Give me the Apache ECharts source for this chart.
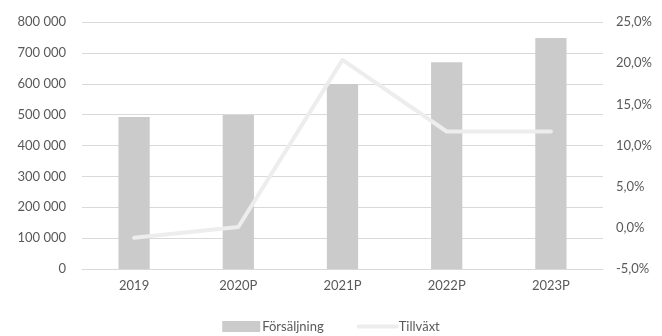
<!DOCTYPE html>
<html>
<head>
<meta charset="utf-8">
<script src="https://cdn.jsdelivr.net/npm/echarts@6/dist/echarts.min.js"></script>
<style>
  html, body { margin: 0; padding: 0; background: #fff; }
  #chart { width: 662px; height: 336px; }
</style>
</head>
<body>
<div id="chart"></div>
<script>
// Sales (left axis) and growth in percent (right axis)
const categories = ['2019', '2020P', '2021P', '2022P', '2023P'];
const salesValues = [492000, 499000, 599000, 670000, 748000];
const growthValues = [-1.2, 0.1, 20.4, 11.7, 11.7];
const seriesNames = ['Försäljning', 'Tillväxt'];

const textColor = '#595959';
const fontFamily = 'Lato, "Open Sans", "Noto Sans", sans-serif';

function fmtThousands(v) {
  return String(v).replace(/\B(?=(\d{3})+(?!\d))/g, ' ');
}
function fmtPercent(v) {
  return v.toFixed(1).replace('.', ',') + '%';
}

const chart = echarts.init(document.getElementById('chart'), null, { renderer: 'canvas' });
chart.setOption({
  animation: false,
  backgroundColor: '#ffffff',
  textStyle: { fontFamily: fontFamily, color: textColor },
  grid: { left: 82, right: 59, top: 22, bottom: 67 },
  legend: {
    top: 320,
    left: 'center',
    padding: 0,
    itemGap: 33,
    itemWidth: 38,
    itemHeight: 11,
    textStyle: { color: textColor, fontSize: 13, fontFamily: fontFamily, padding: [0, 0, 0, -3] },
    data: [
      { name: seriesNames[0], icon: 'rect' },
      // line-only key: hide the marker drawn on top of the stroke
      {
        name: seriesNames[1],
        itemStyle: { color: 'rgba(0,0,0,0)', borderColor: 'rgba(0,0,0,0)', borderWidth: 0 },
        lineStyle: { color: '#ededed', width: 4 }
      }
    ]
  },
  xAxis: {
    type: 'category',
    data: categories,
    axisLine: { lineStyle: { color: '#d9d9d9', width: 1 } },
    axisTick: { show: false },
    axisLabel: { color: textColor, fontSize: 13, margin: 10, fontFamily: fontFamily }
  },
  yAxis: [
    {
      type: 'value',
      min: 0,
      max: 800000,
      interval: 100000,
      axisLine: { show: false },
      axisTick: { show: false },
      splitLine: { lineStyle: { color: '#d9d9d9', width: 1 } },
      axisLabel: { color: textColor, fontSize: 13, margin: 16, fontFamily: fontFamily, formatter: fmtThousands }
    },
    {
      type: 'value',
      min: -5,
      max: 25,
      interval: 5,
      axisLine: { show: false },
      axisTick: { show: false },
      splitLine: { show: false },
      axisLabel: { color: textColor, fontSize: 13, margin: 13, fontFamily: fontFamily, formatter: fmtPercent }
    }
  ],
  series: [
    {
      name: seriesNames[0],
      type: 'bar',
      yAxisIndex: 0,
      data: salesValues,
      barWidth: '30%',
      itemStyle: { color: '#cacbca' }
    },
    {
      name: seriesNames[1],
      type: 'line',
      yAxisIndex: 1,
      data: growthValues,
      symbol: 'none',
      lineStyle: { color: '#ededed', width: 4, cap: 'round', join: 'round' },
      itemStyle: { color: '#ededed' }
    }
  ]
});
</script>
</body>
</html>
